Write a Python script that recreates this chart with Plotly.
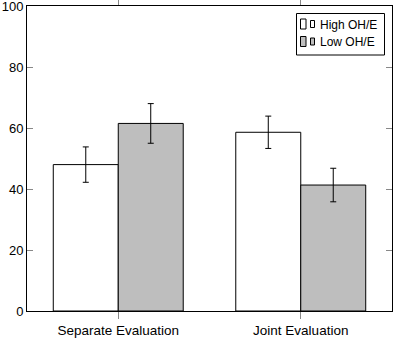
import plotly.graph_objects as go

categories = ["Separate Evaluation", "Joint Evaluation"]
series_names = ["High OH/E", "Low OH/E"]
high_values = [48.0, 58.6]
high_errors = [5.8, 5.3]
low_values = [61.5, 41.3]
low_errors = [6.5, 5.5]
y_ticks = [0, 20, 40, 60, 80, 100]

W, H = 393, 340
L, R, T, B = 27, 1, 6, 29
PW, PH = W - L - R, H - T - B

def px(x):
    return (x - L) / PW

def py(y):
    return (H - B - y) / PH

fills = ["white", "#bebebe"]

fig = go.Figure()
for name, vals, errs, fill in zip(series_names, [high_values, low_values],
                                  [high_errors, low_errors], fills):
    fig.add_trace(go.Bar(
        x=categories, y=vals, name=name, showlegend=False,
        marker=dict(color=fill, line=dict(color="black", width=1)),
        error_y=dict(type="data", array=errs, color="black", thickness=1, width=3),
    ))

# manual legend (R-style)
shapes = [dict(type="rect", xref="paper", yref="paper",
               x0=px(296.5), x1=px(384.5), y0=py(55), y1=py(13.5),
               line=dict(color="black", width=1), fillcolor="white")]
annotations = []
for i, (name, fill) in enumerate(zip(series_names, fills)):
    cy = 24 + i * 17.5
    shapes.append(dict(type="rect", xref="paper", yref="paper",
                       x0=px(300.5), x1=px(306), y0=py(cy + 5), y1=py(cy - 5),
                       line=dict(color="black", width=1), fillcolor=fill))
    shapes.append(dict(type="rect", xref="paper", yref="paper",
                       x0=px(310.5), x1=px(314.5), y0=py(cy + 3.5), y1=py(cy - 3.5),
                       line=dict(color="black", width=1), fillcolor=fill))
    annotations.append(dict(text=name, xref="paper", yref="paper",
                            x=px(317.5), y=py(cy + 0.5), xanchor="left", yanchor="middle",
                            showarrow=False, font=dict(size=12, color="black")))

fig.update_layout(
    template="none",
    width=W, height=H,
    margin=dict(l=L, r=R, t=T, b=B, pad=0, autoexpand=False),
    paper_bgcolor="white", plot_bgcolor="white",
    font=dict(family="Liberation Sans, Arial, sans-serif", size=13, color="black"),
    barmode="group", bargap=0.288, bargroupgap=0,
    shapes=shapes, annotations=annotations,
    xaxis=dict(range=[-0.5, 1.5], showline=True, linecolor="black", linewidth=1,
               mirror="ticks", ticks="outside", ticklen=7, tickcolor="#888888",
               showgrid=False, zeroline=False, tickfont=dict(size=13.5),
               automargin=False),
    yaxis=dict(range=[0, 100], tickvals=y_ticks, showline=True, linecolor="black",
               linewidth=1, mirror="ticks", ticks="inside", ticklen=6,
               tickcolor="#888888", showgrid=False, zeroline=False,
               tickfont=dict(size=13), automargin=False,
               ticklabeloverflow="allow"),
)

fig.write_html(
    "out.html",
    config={"displayModeBar": False},
    post_script="document.body.style.margin='0';document.body.style.padding='0';"
                "document.body.style.overflow='hidden';",
)
